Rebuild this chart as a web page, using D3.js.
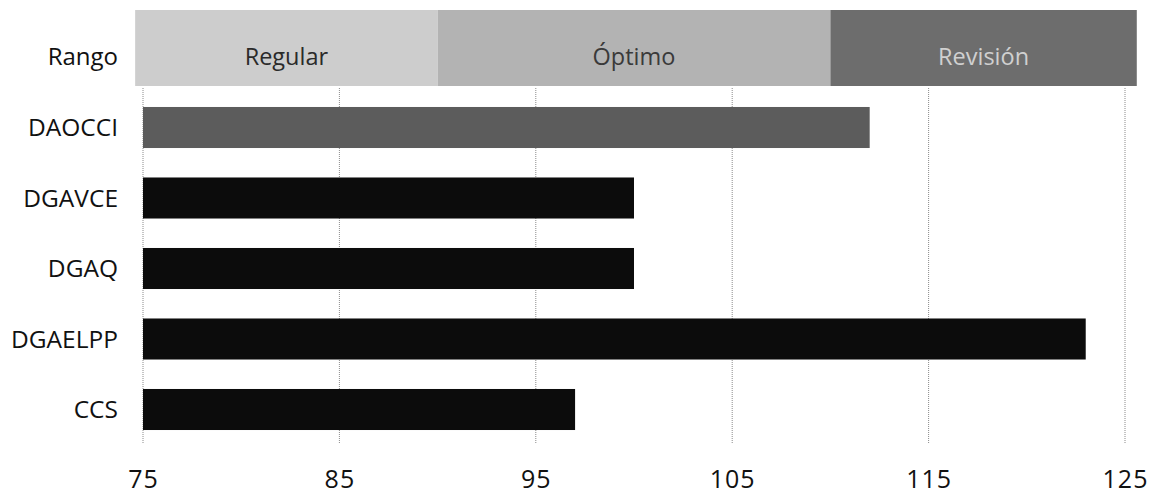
<!DOCTYPE html>
<html>
<head>
<meta charset="utf-8">
<script src="https://cdn.jsdelivr.net/npm/d3@7"></script>
<style>
  body { margin: 0; background: #fff; }
  svg { display: block; font-family: "Open Sans", "Noto Sans", sans-serif; }
</style>
</head>
<body>
<div id="chart"></div>
<script>
// datos
const categories = ["DAOCCI", "DGAVCE", "DGAQ", "DGAELPP", "CCS"];
const values = [112, 100, 100, 123, 97];
const barColors = ["#5c5c5c", "#0c0c0c", "#0c0c0c", "#0c0c0c", "#0c0c0c"];
const rangeLabels = ["Regular", "Óptimo", "Revisión"];
const rangeFrom = [74.6, 90, 110];
const rangeTo = [90, 110, 125.6];
const rangeColors = ["#cdcdcd", "#b3b3b3", "#6d6d6d"];
const rangeTextColors = ["#2a2a2a", "#3a3a3a", "#d0d0d0"];
const xTicks = [75, 85, 95, 105, 115, 125];

const width = 1154, height = 494;

const svg = d3.select("#chart").append("svg")
    .attr("width", width)
    .attr("height", height);

const x = d3.scaleLinear().domain([75, 125]).range([143, 1125]);

const y = d3.scaleBand()
    .domain(categories)
    .range([92.25, 444.75])
    .paddingInner(0.418)
    .paddingOuter(0.209);

// rejilla vertical punteada
svg.append("g")
    .selectAll("line")
    .data(xTicks)
    .join("line")
    .attr("x1", d => x(d))
    .attr("x2", d => x(d))
    .attr("y1", 88)
    .attr("y2", 443)
    .attr("stroke", "#8a8a8a")
    .attr("stroke-width", 1)
    .attr("stroke-dasharray", "1,1");

// barra de rango
const rangeG = svg.append("g");
rangeG.selectAll("rect")
    .data(rangeLabels)
    .join("rect")
    .attr("x", (d, i) => x(rangeFrom[i]))
    .attr("width", (d, i) => x(rangeTo[i]) - x(rangeFrom[i]))
    .attr("y", 10)
    .attr("height", 76)
    .attr("fill", (d, i) => rangeColors[i]);

rangeG.selectAll("text")
    .data(rangeLabels)
    .join("text")
    .attr("x", (d, i) => (x(rangeFrom[i]) + x(rangeTo[i])) / 2)
    .attr("y", 65)
    .attr("text-anchor", "middle")
    .style("font-size", "23.5px")
    .attr("fill", (d, i) => rangeTextColors[i])
    .text(d => d);

svg.append("text")
    .attr("x", 118)
    .attr("y", 65)
    .attr("text-anchor", "end")
    .style("font-size", "24px")
    .attr("fill", "#111")
    .text("Rango");

// barras
svg.append("g")
    .selectAll("rect")
    .data(categories)
    .join("rect")
    .attr("x", x(75))
    .attr("y", d => y(d))
    .attr("width", (d, i) => x(values[i]) - x(75))
    .attr("height", y.bandwidth())
    .attr("fill", (d, i) => barColors[i]);

// eje Y
const yAxis = svg.append("g")
    .attr("transform", "translate(130,0)")
    .call(d3.axisLeft(y).tickSize(0).tickPadding(12));
yAxis.select(".domain").remove();
yAxis.selectAll("text")
    .attr("dy", "0.36em")
    .style("font-size", "24.5px")
    .style("font-family", "'Open Sans', 'Noto Sans', sans-serif")
    .attr("fill", "#111");

// eje X
const xAxis = svg.append("g")
    .attr("transform", "translate(0,462)")
    .call(d3.axisBottom(x).tickValues(xTicks).tickSize(0).tickPadding(0));
xAxis.select(".domain").remove();
xAxis.selectAll("text")
    .attr("dy", "1.05em")
    .style("font-size", "25px")
    .style("letter-spacing", "1px")
    .style("font-family", "'Open Sans', 'Noto Sans', sans-serif")
    .attr("fill", "#111");
</script>
</body>
</html>
